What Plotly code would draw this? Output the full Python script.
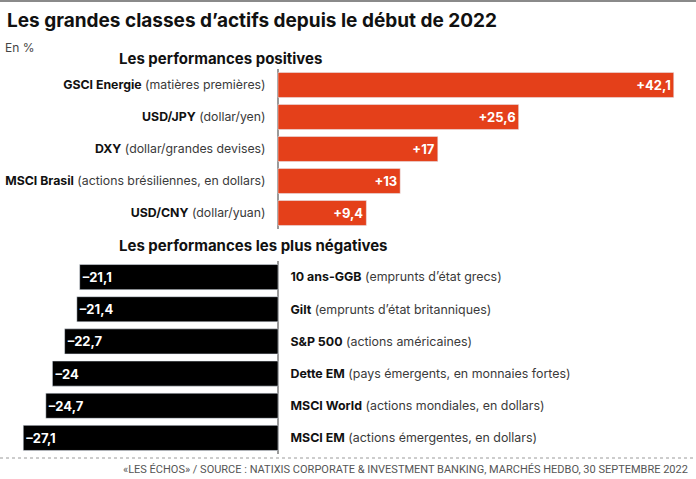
import plotly.graph_objects as go

# ---- data ----
pos_names = ["GSCI Energie", "USD/JPY", "DXY", "MSCI Brasil", "USD/CNY"]
pos_desc = ["(matières premières)", "(dollar/yen)", "(dollar/grandes devises)",
            "(actions brésiliennes, en dollars)", "(dollar/yuan)"]
pos_values = [42.1, 25.6, 17, 13, 9.4]

neg_names = ["10 ans-GGB", "Gilt", "S&P 500", "Dette EM", "MSCI World", "MSCI EM"]
neg_desc = ["(emprunts d’état grecs)", "(emprunts d’état britanniques)", "(actions américaines)",
            "(pays émergents, en monnaies fortes)", "(actions mondiales, en dollars)",
            "(actions émergentes, en dollars)"]
neg_values = [-21.1, -21.4, -22.7, -24, -24.7, -27.1]

title = "Les grandes classes d’actifs depuis le début de 2022"
unit = "En %"
sub_pos = "Les performances positives"
sub_neg = "Les performances les plus négatives"
source = "«LES ÉCHOS» / SOURCE : NATIXIS CORPORATE & INVESTMENT BANKING, MARCHÉS HEDBO, 30 SEPTEMBRE 2022"

W, H = 696, 479
FONT = "Inter, Roboto, sans-serif"
ORANGE = "#E4401A"


def fmt(v):
    s = ("%g" % abs(v)).replace(".", ",")
    return ("+" if v > 0 else "–") + s


def lab(n, d):
    return "<b>%s</b> <span style='color:#3a3a3a'>%s</span>" % (n, d)


pos_labels = [lab(n, d) for n, d in zip(pos_names, pos_desc)]
neg_labels = [lab(n, d) for n, d in zip(neg_names, neg_desc)]

zero_px = 278
scale = 9.4
xr = [-zero_px / scale, (W - zero_px) / scale]

fig = go.Figure()
fig.add_trace(go.Bar(
    x=pos_values, y=pos_labels, orientation="h", marker_color=ORANGE,
    text=[fmt(v) for v in pos_values], textposition="inside", insidetextanchor="end",
    textfont=dict(color="white", size=13, family=FONT, weight="bold"),
    xaxis="x", yaxis="y", hoverinfo="skip", cliponaxis=False))
fig.add_trace(go.Bar(
    x=neg_values, y=neg_labels, orientation="h", marker_color="#000000",
    text=[fmt(v) for v in neg_values], textposition="inside", insidetextanchor="end",
    textfont=dict(color="white", size=13, family=FONT, weight="bold"),
    xaxis="x2", yaxis="y2", hoverinfo="skip", cliponaxis=False))

ax_common = dict(range=xr, showgrid=False, showticklabels=False, zeroline=True,
                 zerolinecolor="#9a9a9a", zerolinewidth=1.5, fixedrange=True,
                 automargin=False)

fig.update_layout(
    width=W, height=H,
    margin=dict(l=0, r=0, t=0, b=0, autoexpand=False),
    paper_bgcolor="white", plot_bgcolor="white",
    showlegend=False, bargap=0.22,
    font=dict(family=FONT, color="#111111"),
    xaxis=dict(domain=[0, 1], anchor="y", **ax_common),
    xaxis2=dict(domain=[0, 1], anchor="y2", **ax_common),
    yaxis=dict(domain=[1 - 229 / H, 1 - 69 / H], anchor="free", position=zero_px / W,
               side="left", autorange="reversed", type="category", automargin=False,
               showgrid=False, ticks="outside", ticklen=10, tickcolor="rgba(0,0,0,0)",
               tickfont=dict(size=12.3, family=FONT, color="#111111"), fixedrange=True),
    yaxis2=dict(domain=[1 - 454 / H, 1 - 261 / H], anchor="free", position=zero_px / W,
                side="right", autorange="reversed", type="category", automargin=False,
                showgrid=False, ticks="outside", ticklen=9, tickcolor="rgba(0,0,0,0)",
                tickfont=dict(size=12.4, family=FONT, color="#111111"), fixedrange=True),
)

annos = [
    dict(text="<b>" + title + "</b>", x=5 / W, y=1 - 7 / H, xanchor="left", yanchor="top",
         font=dict(size=19, color="#111111")),
    dict(text=unit, x=3 / W, y=1 - 38 / H, xanchor="left", yanchor="top",
         font=dict(size=12, color="#444444")),
    dict(text="<b>" + sub_pos + "</b>", x=117 / W, y=1 - 47 / H, xanchor="left", yanchor="top",
         font=dict(size=15, color="#111111")),
    dict(text="<b>" + sub_neg + "</b>", x=117 / W, y=1 - 234 / H, xanchor="left", yanchor="top",
         font=dict(size=15, color="#111111")),
    dict(text=source, x=690 / W, y=1 - 461 / H, xanchor="right", yanchor="top",
         font=dict(size=11, color="#555555", family="Roboto, sans-serif")),
]
for a in annos:
    a.update(xref="paper", yref="paper", showarrow=False)
fig.update_layout(annotations=annos)

fig.add_shape(type="line", xref="paper", yref="paper", x0=0, x1=1, y0=1 - 1 / H, y1=1 - 1 / H,
              line=dict(color="#8a8a8a", width=2))
fig.add_shape(type="line", xref="paper", yref="paper", x0=0, x1=1, y0=1 - 458 / H, y1=1 - 458 / H,
              line=dict(color="#9a9a9a", width=1, dash="dot"))

fig.write_html("out.html", config={"displayModeBar": False},
               post_script="document.body.style.margin='0';")
